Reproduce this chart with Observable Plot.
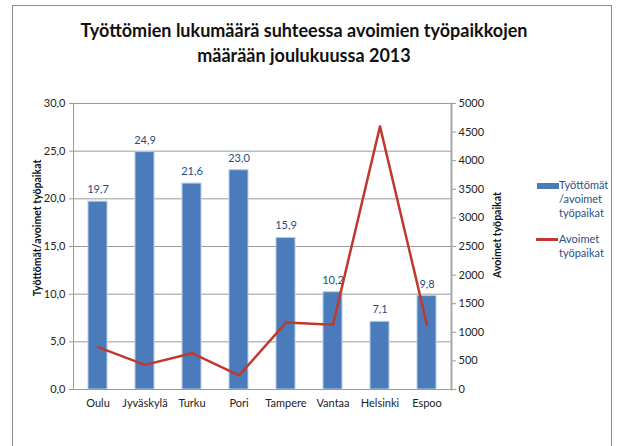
<!DOCTYPE html>
<html>
<head>
<meta charset="utf-8">
<script src="https://cdn.jsdelivr.net/npm/d3@7"></script>
<script src="https://cdn.jsdelivr.net/npm/@observablehq/plot@0.6"></script>
<style>
  html, body { margin: 0; padding: 0; background: #fff; }
  #wrap { position: relative; width: 620px; height: 446px; overflow: hidden; font-family: Lato, "Open Sans", sans-serif; }
  #frame { position: absolute; left: 12px; top: 5px; width: 600px; height: 460px; border: 1px solid #8c8c8c; box-sizing: border-box; }
  #title { position: absolute; left: 0; top: 18px; width: 608px; text-align: center; font-weight: bold; font-size: 18px; line-height: 25px; color: #111; }
  .leg { position: absolute; font-size: 11px; line-height: 14px; color: #2d4f86; }
  .sw { position: absolute; }
  .ytitle { position: absolute; width: 240px; margin-left: -120px; text-align: center; font-weight: bold; font-size: 10.5px; line-height: 12px; color: #111; transform: rotate(-90deg); white-space: nowrap; }
  #chart { position: absolute; left: 0; top: 0; }
</style>
</head>
<body>
<div id="wrap">
  <div id="frame"></div>
  <div id="chart"></div>
  <div id="title">Työttömien lukumäärä suhteessa avoimien työpaikkojen<br>määrään joulukuussa 2013</div>
  <div class="ytitle" style="left:37px;top:222px">Työttömät/avoimet työpaikat</div>
  <div class="ytitle" style="left:497px;top:229px">Avoimet työpaikat</div>
  <div class="sw" style="left:537px;top:183px;width:22px;height:6px;background:#4a7cbb"></div>
  <div class="leg" style="left:559px;top:178px">Työttömät<br>/avoimet<br>työpaikat</div>
  <div class="sw" style="left:536px;top:238px;width:22px;height:3px;background:#c0392f"></div>
  <div class="leg" style="left:559px;top:232px">Avoimet<br>työpaikat</div>
</div>
<script>
const cities = ["Oulu", "Jyväskylä", "Turku", "Pori", "Tampere", "Vantaa", "Helsinki", "Espoo"];
const ratio = [19.7, 24.9, 21.6, 23.0, 15.9, 10.2, 7.1, 9.8];
const openJobs = [740, 430, 635, 245, 1170, 1130, 4600, 1130];
const leftTicks = [0, 5, 10, 15, 20, 25, 30];
const rightTicks = [0, 500, 1000, 1500, 2000, 2500, 3000, 3500, 4000, 4500, 5000];
const leftMax = 30, rightMax = 5000;

const k = leftMax / rightMax;
const bars = cities.map((c, i) => ({city: c, value: ratio[i]}));
const line = cities.map((c, i) => ({city: c, jobs: openJobs[i], yv: openJobs[i] * k}));
const fmt1 = d => d.toFixed(1).replace(".", ",");

const chart = Plot.plot({
  width: 620,
  height: 446,
  marginLeft: 73,
  marginRight: 169,
  marginTop: 103,
  marginBottom: 57,
  style: {fontFamily: "Lato, 'Open Sans', sans-serif", fontSize: "11px", color: "#222", background: "transparent"},
  x: {domain: cities, paddingInner: 0.6, paddingOuter: 0.3, label: null},
  y: {domain: [0, leftMax], label: null},
  marks: [
    Plot.gridY(leftTicks.filter(d => d > 0), {stroke: "#9a9a9a", strokeOpacity: 1, strokeWidth: 1}),
    Plot.barY(bars, {x: "city", y: "value", fill: "#4a7cbb", stroke: "#b8cce4", strokeWidth: 1}),
    Plot.text(bars, {x: "city", y: "value", text: d => fmt1(d.value), dy: -12, fill: "#2b4a7e", fontSize: 11}),
    Plot.line(line, {x: "city", y: "yv", stroke: "#c0392f", strokeWidth: 2.5}),
    Plot.ruleY([0], {stroke: "#9a9a9a", strokeWidth: 1}),
    Plot.axisY(leftTicks, {anchor: "left", tickFormat: fmt1, tickSize: 4, tickPadding: 4, stroke: "#9a9a9a", fill: "#222", fontSize: 11, label: null}),
    Plot.axisY(rightTicks.map(d => d * k), {anchor: "right", tickFormat: d => String(Math.round(d / k)), tickSize: 4, tickPadding: 3, stroke: "#9a9a9a", fill: "#222", fontSize: 11, label: null}),
    Plot.frame({anchor: "left", stroke: "#9a9a9a"}),
    Plot.frame({anchor: "right", stroke: "#a8a8a8", strokeWidth: 2}),
    Plot.axisX({tickSize: 0, tickPadding: 10, fill: "#222", fontSize: 11, label: null})
  ]
});
document.getElementById("chart").appendChild(chart);
</script>
</body>
</html>
